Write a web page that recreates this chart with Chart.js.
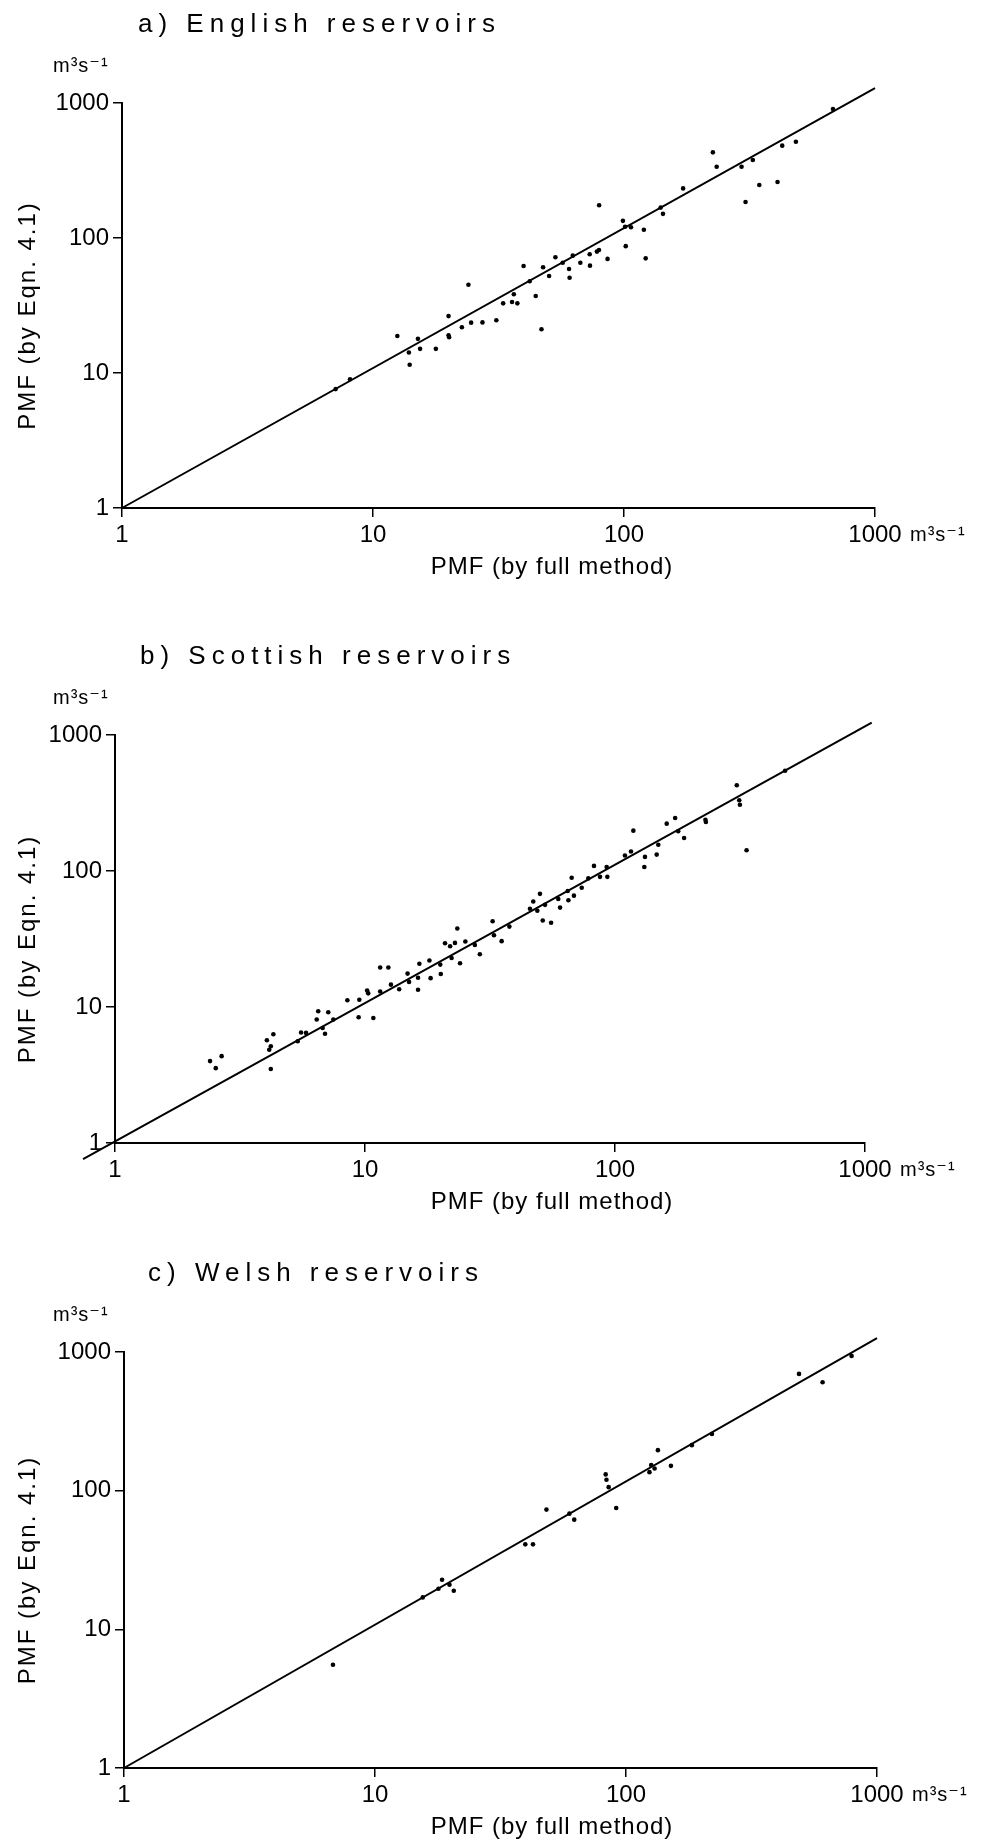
<!DOCTYPE html>
<html>
<head>
<meta charset="utf-8">
<script src="https://cdn.jsdelivr.net/npm/chart.js@4.4.1/dist/chart.umd.min.js"></script>
<style>
    html, body { margin: 0; padding: 0; background: #fff; }
    #page { position: relative; width: 991px; height: 1845px; }
    #page canvas { position: absolute; left: 0; }
</style>
</head>
<body>
<div id="page">
    <canvas id="chart-a" width="991" height="615" style="top:0px"></canvas>
    <canvas id="chart-b" width="991" height="615" style="top:615px"></canvas>
    <canvas id="chart-c" width="991" height="615" style="top:1230px"></canvas>
</div>
<script>
// Decade ticks, same on both axes of every panel
const decadeTicks = [1, 10, 100, 1000];

// a) English reservoirs - PMF by full method (x) and by Eqn. 4.1 (y), m3/s
const englishFull = [7.1, 8.1, 12.5, 13.9, 14.0, 15.1, 15.4, 17.8, 20.0, 20.0, 20.1, 22.6, 24.0, 24.6, 27.3, 31.0, 33.0, 35.8, 36.4, 37.6, 39.8, 42.1, 44.5, 46.9, 47.6, 50.3, 53.3, 57.0, 60.4, 60.7, 62.5, 67.0, 73.0, 73.2, 78.0, 79.5, 79.6, 86.0, 99.0, 101, 101.6, 106.6, 120, 122, 140, 143, 172, 226, 234, 294, 305, 326, 346, 409, 427, 484, 680];
const englishEqn = [7.6, 9.0, 18.8, 14.2, 11.5, 17.9, 15.1, 15.1, 26.4, 19.0, 18.4, 21.8, 45.0, 23.6, 23.7, 24.6, 32.8, 33.6, 38.3, 32.8, 62.0, 47.8, 37.2, 21.1, 60.7, 52.3, 72.0, 65.6, 58.9, 50.8, 74.0, 65.6, 75.7, 62.4, 79.3, 81.5, 175, 70.0, 134, 121, 87.0, 120, 115, 70.7, 168, 151, 233, 431, 337, 337, 185, 378, 247, 260, 483, 517, 903];
const englishLineFull = [1, 1000];
const englishLineEqn = [1, 1290];

// b) Scottish reservoirs
const scottishFull = [2.40, 2.67, 2.53, 4.05, 4.30, 4.2, 4.14, 4.2, 5.55, 5.81, 5.38, 6.5, 7.13, 6.41, 7.47, 6.77, 6.92, 8.5, 9.49, 9.43, 10.8, 10.2, 10.3, 11.5, 12.4, 11.5, 12.7, 13.7, 14.8, 15.0, 16.3, 16.3, 16.5, 18.1, 18.3, 20.1, 20.0, 20.9, 21.9, 22.9, 23.4, 25.2, 24.0, 22.2, 27.5, 28.8, 32.4, 32.8, 35.2, 37.8, 45.7, 47.1, 50.1, 48.9, 51.4, 55.5, 52.5, 59.3, 60.3, 64.7, 67.1, 65.1, 68.5, 73.6, 78.2, 82.4, 87.1, 92.6, 93.2, 109.6, 115.9, 118.4, 131.8, 131, 146.8, 149, 161, 174, 179, 189, 230, 231, 307, 314, 316, 336, 479, 1031];
const scottishEqn = [4.0, 4.35, 3.55, 5.7, 6.3, 5.15, 4.85, 3.5, 6.5, 6.45, 5.6, 9.3, 9.15, 8.1, 8.1, 7.0, 6.35, 11.2, 11.3, 8.4, 8.3, 13.2, 12.6, 19.5, 19.5, 13.0, 14.6, 13.5, 17.6, 15.3, 16.4, 13.4, 20.8, 22.0, 16.3, 17.5, 20.5, 29.4, 28.0, 29.6, 37.8, 30.3, 21.0, 22.9, 28.6, 24.4, 42.7, 33.7, 30.5, 39.0, 52.8, 59.6, 67.9, 51.0, 43.3, 41.6, 56.4, 62.3, 53.8, 71.3, 89.2, 60.9, 65.9, 75.3, 88.2, 109, 90.6, 107, 90.6, 130, 139, 198, 127, 107, 132, 156, 223, 245, 196, 175, 238, 229, 427, 331, 307, 142, 546, 1315];
const scottishLineFull = [0.745, 1064];
const scottishLineEqn = [0.76, 1231];

// c) Welsh reservoirs
const welshFull = [6.8, 15.5, 17.9, 18.5, 19.8, 20.6, 39.7, 42.6, 48.2, 59.5, 62.2, 83, 83.6, 85.3, 91.4, 124, 130, 126, 134, 151, 183, 220, 489, 607, 792];
const welshEqn = [5.55, 17.0, 19.6, 22.8, 21.0, 19.0, 41, 41, 73, 68.3, 61.8, 131, 120, 106, 75, 136, 144.5, 153, 196, 151, 213, 256, 695, 605, 937];
const welshLineFull = [1, 1000];
const welshLineEqn = [1, 1260];

const FONT = '"Liberation Sans", Arial, "DejaVu Sans", sans-serif';
const UNIT = 'm\u00B3s\u207B\u00B9';

// Draws the panel title, unit marks and axis titles around the plot area
const panelText = {
    id: 'panelText',
    afterDraw(chart, args, opts) {
        const ctx = chart.ctx;
        const area = chart.chartArea;
        ctx.save();
        ctx.fillStyle = '#000';
        ctx.textBaseline = 'alphabetic';

        // panel title, widely spaced
        ctx.font = '26px ' + FONT;
        ctx.letterSpacing = '6px';
        ctx.textAlign = 'left';
        ctx.fillText(opts.title, opts.titleX, area.top - 71);

        // unit at top of the y axis and at the end of the x axis
        ctx.letterSpacing = '1px';
        ctx.font = '20px ' + FONT;
        ctx.fillText(UNIT, 53, area.top - 31);
        ctx.fillText(UNIT, area.right + 35, area.bottom + 33);

        // x axis title
        ctx.font = '24px ' + FONT;
        ctx.letterSpacing = '1px';
        ctx.textAlign = 'center';
        ctx.fillText('PMF (by full method)', opts.xTitleX, area.bottom + 66);

        // y axis title, rotated
        ctx.letterSpacing = '2px';
        ctx.translate(35, (area.top + area.bottom) / 2 + 10);
        ctx.rotate(-Math.PI / 2);
        ctx.fillText('PMF (by Eqn. 4.1)', 0, 0);
        ctx.restore();
    }
};

/**
 * Logarithmic 1..1000 axis with decade ticks only
 */
function logAxis(kind, size) {
    return {
        type: 'logarithmic',
        min: 1,
        max: 1000,
        afterBuildTicks: axis => {
            axis.ticks = decadeTicks.map(v => ({ value: v }));
        },
        afterFit: axis => {
            if (kind === 'x') {
                axis.height = size;
            } else {
                axis.width = size;
            }
            axis.paddingLeft = 0;
            axis.paddingRight = 0;
            axis.paddingTop = 0;
            axis.paddingBottom = 0;
        },
        grid: {
            drawOnChartArea: false,
            drawTicks: true,
            tickLength: 9,
            color: '#000',
            lineWidth: 1.5
        },
        border: { display: true, color: '#000', width: 2 },
        ticks: {
            color: '#000',
            font: { family: FONT, size: 24 },
            padding: kind === 'x' ? 4 : 4,
            maxRotation: 0,
            autoSkip: false,
            callback: v => String(v)
        }
    };
}

/**
 * Build one panel: scatter of reservoirs plus the fitted line
 */
function makePanel(cfg, full, eqn, lineFull, lineEqn) {
    const canvas = document.getElementById(cfg.id);
    const points = full.map((x, i) => ({ x: x, y: eqn[i] }));
    const line = lineFull.map((x, i) => ({ x: x, y: lineEqn[i] }));

    return new Chart(canvas, {
        type: 'scatter',
        data: {
            datasets: [
                {
                    data: line,
                    showLine: true,
                    borderColor: '#000',
                    borderWidth: 2,
                    pointRadius: 0,
                    clip: false
                },
                {
                    data: points,
                    backgroundColor: '#000',
                    borderWidth: 0,
                    pointRadius: 2.3,
                    clip: false
                }
            ]
        },
        options: {
            responsive: false,
            animation: false,
            devicePixelRatio: 1,
            layout: {
                padding: { left: 0, top: cfg.top, right: canvas.width - cfg.right, bottom: 0 }
            },
            plugins: {
                legend: { display: false },
                tooltip: { enabled: false },
                panelText: { title: cfg.title, titleX: cfg.titleX, xTitleX: cfg.xTitleX }
            },
            scales: {
                x: logAxis('x', canvas.height - cfg.bottom),
                y: logAxis('y', cfg.left)
            }
        },
        plugins: [panelText]
    });
}

makePanel({ id: 'chart-a', title: 'a) English reservoirs', titleX: 138, xTitleX: 552,
            left: 122, right: 875, top: 103, bottom: 508 },
          englishFull, englishEqn, englishLineFull, englishLineEqn);

makePanel({ id: 'chart-b', title: 'b) Scottish reservoirs', titleX: 140, xTitleX: 552,
            left: 115, right: 865, top: 120, bottom: 528 },
          scottishFull, scottishEqn, scottishLineFull, scottishLineEqn);

makePanel({ id: 'chart-c', title: 'c) Welsh reservoirs', titleX: 148, xTitleX: 552,
            left: 124, right: 877, top: 122, bottom: 538 },
          welshFull, welshEqn, welshLineFull, welshLineEqn);
</script>
</body>
</html>
